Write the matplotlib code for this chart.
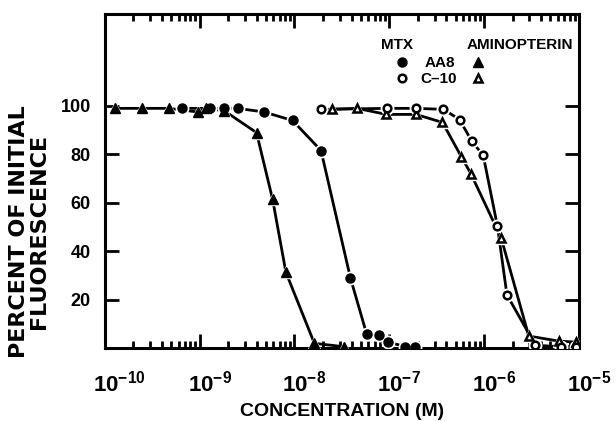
import numpy as np
import matplotlib
matplotlib.use('Agg')
import matplotlib.pyplot as plt
import matplotlib.ticker as ticker
import matplotlib.transforms as mtransforms

plt.rcParams['font.family'] = ['Liberation Sans', 'DejaVu Sans']
plt.rcParams['font.weight'] = 'bold'
plt.rcParams['mathtext.fontset'] = 'custom'
plt.rcParams['mathtext.bf'] = 'Liberation Sans:bold'
plt.rcParams['mathtext.rm'] = 'Liberation Sans:bold'

# log10 of concentration (M) and percent of initial fluorescence
aa8_mtx_logc = [-9.19, -8.89, -8.74, -8.60, -8.32, -8.02, -7.72,
                -7.41, -7.24, -7.11, -7.01, -6.83, -6.73]
aa8_mtx_pct = [99, 99, 99, 99, 97.5, 94, 81.6, 29, 6, 5.5, 2.5, 0.6, 0.6]

aa8_amin_logc = [-9.89, -9.61, -9.32, -9.02, -8.93, -8.74, -8.40, -8.23, -8.09, -7.79, -7.48]
aa8_amin_pct = [99, 99, 99, 97.5, 99, 98, 89, 61.4, 31.3, 2, 0.6]

c10_mtx_logc = [-7.72, -7.02, -6.72, -6.43, -6.26, -6.13, -6.01, -5.86, -5.76, -5.46,
                -5.19, -5.03]
c10_mtx_pct = [98.6, 99, 99, 98.6, 94.4, 85.4, 79.6, 50.3, 22, 1.2, 0.6, 0.6]

c10_amin_logc = [-7.60, -7.34, -7.03, -6.72, -6.44, -6.24, -6.14, -5.82, -5.53, -5.21, -5.03]
c10_amin_pct = [98.6, 99, 96.5, 96.5, 93.2, 79, 72, 45.4, 5, 2.9, 2.5]

yticks = [20, 40, 60, 80, 100]
xdecades = [-10, -9, -8, -7, -6, -5]

fig = plt.figure(figsize=(6.16, 4.21), dpi=100)
ax = fig.add_axes([0.170, 0.173, 0.770, 0.794])

def series(logc, pct, marker, filled, ms):
    x = 10.0 ** np.array(logc)
    ax.plot(x, pct, color='black', lw=2.0, zorder=2)
    # white halo gives the little gaps around the symbols
    ax.plot(x, pct, ls='none', marker=marker, ms=ms + 2.5, color='white', mec='white', zorder=3)
    if filled:
        ax.plot(x, pct, ls='none', marker=marker, ms=ms, color='black', mec='black', zorder=4)
    else:
        ax.plot(x, pct, ls='none', marker=marker, ms=ms - 1, mfc='white', mec='black',
                mew=1.8, zorder=4)

series(aa8_amin_logc, aa8_amin_pct, '^', True, 6.5)
series(aa8_mtx_logc, aa8_mtx_pct, 'o', True, 6.5)
series(c10_amin_logc, c10_amin_pct, '^', False, 6.5)
series(c10_mtx_logc, c10_mtx_pct, 'o', False, 6.5)

ax.set_xscale('log')
ax.set_xlim(1e-10, 1e-5)
ax.set_ylim(0, 138)
ax.set_yticks(yticks)
ax.set_yticklabels([str(v) for v in yticks], fontsize=13, fontweight='bold')
ax.set_xticks([10.0 ** d for d in xdecades])
ax.set_xticklabels([r'$\mathbf{10^{%d}}$' % d for d in xdecades], fontsize=16)
ax.xaxis.set_minor_locator(ticker.LogLocator(base=10, subs=np.arange(2, 10), numticks=20))
ax.xaxis.set_minor_formatter(ticker.NullFormatter())

ax.tick_params(which='major', direction='in', length=10, width=2, top=True, right=True)
ax.tick_params(which='minor', direction='in', length=5, width=2, top=True)
ax.tick_params(axis='x', pad=16)
ax.tick_params(axis='y', pad=10)
# the "10" sits over the tick, the exponent hangs to the right
shift = mtransforms.ScaledTranslation(-0.12, 0, fig.dpi_scale_trans)
for lab in ax.get_xticklabels():
    lab.set_horizontalalignment('left')
    lab.set_transform(lab.get_transform() + shift)
for s in ax.spines.values():
    s.set_linewidth(2.2)

ax.set_xlabel('CONCENTRATION (M)', fontsize=14, fontweight='bold')
ax.xaxis.set_label_coords(0.5, -0.163)
ax.set_ylabel('PERCENT OF INITIAL\nFLUORESCENCE', family='DejaVu Sans', fontsize=16,
              fontweight='bold', linespacing=1.0)
ax.yaxis.set_label_coords(-0.118, 0.35)

# key in the upper right
tr = ax.transAxes
ax.text(0.616, 0.907, 'MTX', transform=tr, ha='center', va='center', fontsize=11,
        fontweight='bold')
ax.text(0.876, 0.907, 'AMINOPTERIN', transform=tr, ha='center', va='center', fontsize=11,
        fontweight='bold')
ax.text(0.707, 0.853, 'AA8', transform=tr, ha='center', va='center', fontsize=11,
        fontweight='bold')
ax.text(0.703, 0.805, 'C\u201310', transform=tr, ha='center', va='center', fontsize=11,
        fontweight='bold')
ax.plot([0.627], [0.856], 'o', ms=6.5, color='black', transform=tr, clip_on=False)
ax.plot([0.787], [0.856], '^', ms=6.5, color='black', transform=tr, clip_on=False)
ax.plot([0.627], [0.808], 'o', ms=5.5, mfc='white', mec='black', mew=1.8, transform=tr,
        clip_on=False)
ax.plot([0.787], [0.808], '^', ms=5.5, mfc='white', mec='black', mew=1.8, transform=tr,
        clip_on=False)

fig.savefig('out.png', dpi=100)
